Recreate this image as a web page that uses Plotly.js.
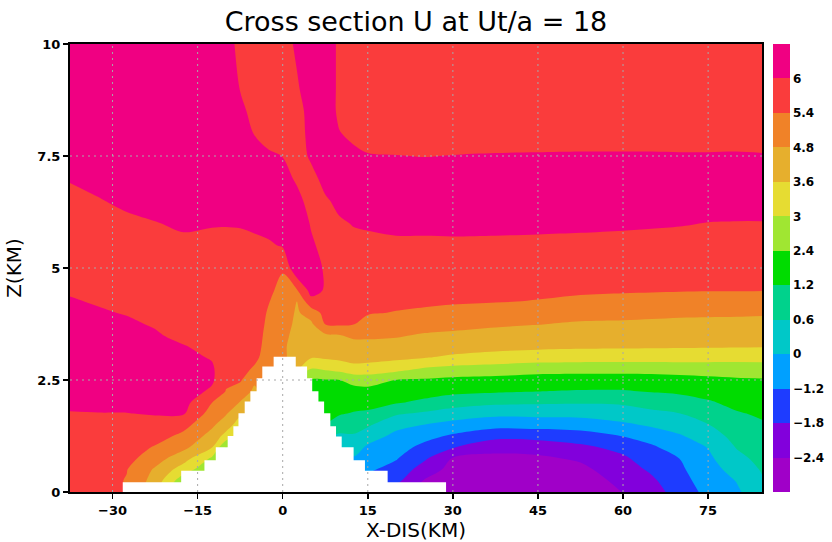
<!DOCTYPE html>
<html><head><meta charset="utf-8">
<script src="https://cdn.plot.ly/plotly-3.0.1.min.js"></script>
<style>html,body{margin:0;padding:0;background:#fff}</style>
</head><body><div id="chart" style="width:832px;height:542px"></div>
<script>
// Grid positions (km)
const xKm = [-37.5, -32.5, -27.5, -22.5, -17.5, -12.5, -10, -7.5, -5, -2.5, 0, 2.5, 5, 7.5, 10, 12.5, 15, 20, 25, 30, 37.5, 45, 52.5, 60, 65, 70, 75, 80, 85];
const zKm = [0, 0.25, 0.5, 0.75, 1, 1.25, 1.5, 1.75, 2, 2.25, 2.5, 2.75, 3, 3.25, 3.5, 3.75, 4, 4.25, 4.5, 5, 5.5, 6, 6.5, 7, 7.5, 8, 8.5, 9, 10];

// U (m/s): one vertical profile per x position (values at zKm)
const U = [
  [5.6, 5.62, 5.65, 5.7, 5.75, 5.82, 5.9, 5.98, 6.08, 6.17, 6.24, 6.28, 6.3, 6.3, 6.26, 6.2, 6.12, 6.04, 5.95, 5.8, 5.7, 5.7, 5.8, 6.05, 6.25, 6.3, 6.3, 6.3, 6.25],
  [5.6, 5.62, 5.65, 5.7, 5.75, 5.82, 5.9, 5.99, 6.1, 6.2, 6.26, 6.3, 6.3, 6.28, 6.22, 6.14, 6.05, 5.96, 5.88, 5.75, 5.7, 5.78, 5.97, 6.15, 6.3, 6.35, 6.3, 6.3, 6.25],
  [5.38, 5.37, 5.42, 5.6, 5.7, 5.78, 5.88, 5.99, 6.12, 6.22, 6.28, 6.3, 6.3, 6.25, 6.18, 6.08, 5.97, 5.88, 5.8, 5.72, 5.75, 5.9, 6.1, 6.25, 6.35, 6.35, 6.3, 6.3, 6.25],
  [3.8, 4.3, 4.65, 5.05, 5.35, 5.65, 5.85, 6.03, 6.15, 6.25, 6.3, 6.3, 6.25, 6.15, 6.06, 5.95, 5.85, 5.78, 5.72, 5.7, 5.8, 5.98, 6.2, 6.3, 6.35, 6.35, 6.3, 6.3, 6.25],
  [2.0, 2.6, 3.3, 4.1, 4.95, 5.25, 5.6, 6.05, 6.2, 6.3, 6.35, 6.3, 6.18, 6.03, 5.85, 5.75, 5.7, 5.68, 5.67, 5.72, 5.88, 6.08, 6.25, 6.3, 6.35, 6.3, 6.3, 6.3, 6.25],
  [2.0, 2.2, 2.5, 2.9, 3.69, 4.4, 4.91, 5.16, 5.41, 5.9, 6.1, 6.1, 5.95, 5.85, 5.8, 5.78, 5.76, 5.76, 5.76, 5.8, 5.88, 6.03, 6.2, 6.3, 6.35, 6.35, 6.3, 6.3, 6.25],
  [1.6, 1.8, 2.0, 2.2, 2.4, 3.39, 4.2, 4.85, 5.13, 5.38, 5.5, 5.55, 5.6, 5.65, 5.68, 5.7, 5.72, 5.74, 5.76, 5.82, 5.9, 6.02, 6.2, 6.3, 6.35, 6.35, 6.3, 6.3, 6.15],
  [2.4, 2.5, 2.6, 2.7, 2.8, 2.9, 3.3, 3.9, 4.74, 5.12, 5.47, 5.55, 5.6, 5.62, 5.64, 5.65, 5.66, 5.68, 5.7, 5.78, 5.9, 6.03, 6.2, 6.3, 6.35, 6.3, 6.2, 5.98, 5.9],
  [3.6, 3.7, 3.8, 3.9, 4.0, 4.1, 4.2, 4.3, 4.4, 4.6, 4.9, 5.35, 5.5, 5.55, 5.58, 5.6, 5.62, 5.64, 5.66, 5.75, 5.88, 6.1, 6.3, 6.35, 6.25, 5.98, 5.75, 5.7, 5.7],
  [4.6, 4.65, 4.7, 4.75, 4.8, 4.85, 4.9, 4.95, 5.0, 5.05, 5.1, 5.15, 5.2, 5.25, 5.28, 5.32, 5.36, 5.42, 5.5, 5.7, 5.92, 6.2, 6.3, 6.3, 6.08, 5.8, 5.7, 5.7, 5.7],
  [4.0, 4.1, 4.2, 4.3, 4.4, 4.5, 4.6, 4.7, 4.8, 4.9, 5.0, 5.0, 4.95, 4.9, 4.95, 5.05, 5.12, 5.2, 5.25, 5.45, 6.05, 6.3, 6.35, 6.25, 5.99, 5.75, 5.7, 5.7, 5.75],
  [2.0, 2.1, 2.2, 2.3, 2.4, 2.5, 2.6, 2.7, 2.8, 2.9, 3.0, 3.8, 4.1, 4.3, 4.45, 4.55, 4.65, 4.78, 5.35, 6.5, 6.5, 6.4, 6.2, 5.9, 5.7, 5.65, 5.7, 5.93, 6.1],
  [0.2, 0.4, 0.6, 0.8, 1.0, 1.2, 1.4, 1.6, 1.8, 2.05, 2.35, 3.0, 3.66, 3.98, 4.29, 4.6, 5.05, 5.82, 6.2, 6.3, 6.1, 5.95, 5.75, 5.8, 6.1, 6.25, 6.3, 6.3, 6.3],
  [-0.9, -0.7, -0.5, -0.2, 0.2, 0.7, 1.2, 1.49, 1.77, 2.06, 2.34, 3.09, 3.74, 4.18, 4.62, 5.42, 5.6, 5.8, 5.95, 5.92, 5.8, 5.75, 5.92, 6.2, 6.3, 6.3, 6.3, 6.3, 6.3],
  [-0.6, -0.45, -0.3, -0.15, 0.02, 0.5, 0.92, 1.3, 1.67, 2.03, 2.38, 3.23, 3.86, 4.33, 4.78, 5.5, 5.55, 5.6, 5.65, 5.72, 5.8, 5.93, 6.15, 6.2, 6.15, 6.02, 5.9, 5.9, 5.9],
  [-1.0, -0.8, -0.5, -0.1, 0.24, 0.54, 0.85, 1.16, 1.59, 2.04, 2.58, 3.43, 3.97, 4.43, 4.9, 5.42, 5.45, 5.5, 5.55, 5.7, 5.85, 6.03, 6.2, 6.2, 6.1, 5.9, 5.78, 5.75, 5.75],
  [-1.6, -1.35, -1.03, -0.6, -0.17, 0.26, 0.69, 1.11, 1.59, 2.07, 2.64, 3.39, 3.96, 4.46, 4.9, 5.23, 5.44, 5.5, 5.55, 5.7, 5.88, 6.06, 6.2, 6.2, 6.03, 5.8, 5.75, 5.75, 5.75],
  [-2.2, -1.65, -1.4, -1.12, -0.7, -0.28, 0.16, 0.68, 1.31, 1.85, 2.38, 3.21, 3.85, 4.38, 4.86, 5.14, 5.38, 5.49, 5.58, 5.75, 5.92, 6.1, 6.2, 6.2, 6.01, 5.8, 5.75, 5.75, 5.75],
  [-2.7, -2.45, -2.08, -1.71, -1.37, -0.81, -0.02, 0.5, 1.08, 1.67, 2.26, 2.94, 3.64, 4.17, 4.69, 5.04, 5.33, 5.47, 5.56, 5.75, 5.93, 6.09, 6.2, 6.2, 5.99, 5.8, 5.75, 5.75, 5.75],
  [-2.9, -2.75, -2.6, -2.44, -1.75, -1.29, -0.4, 0.32, 0.87, 1.47, 2.13, 2.81, 3.51, 4.06, 4.59, 4.97, 5.26, 5.45, 5.55, 5.74, 5.93, 6.1, 6.22, 6.2, 6.01, 5.8, 5.75, 5.75, 5.75],
  [-3.0, -2.84, -2.68, -2.52, -2.24, -1.59, -0.83, 0.16, 0.72, 1.34, 2.04, 2.73, 3.39, 3.94, 4.44, 4.88, 5.17, 5.42, 5.52, 5.72, 5.92, 6.1, 6.22, 6.22, 6.03, 5.8, 5.75, 5.75, 5.75],
  [-3.0, -2.83, -2.67, -2.5, -2.17, -1.58, -0.74, 0.18, 0.68, 1.22, 1.91, 2.63, 3.3, 3.85, 4.32, 4.82, 5.09, 5.38, 5.49, 5.69, 5.9, 6.1, 6.22, 6.22, 6.04, 5.8, 5.75, 5.75, 5.75],
  [-2.9, -2.72, -2.54, -2.32, -1.93, -1.46, -0.65, 0.2, 0.66, 1.16, 1.87, 2.61, 3.27, 3.78, 4.23, 4.67, 5.01, 5.3, 5.47, 5.67, 5.88, 6.09, 6.22, 6.22, 6.05, 5.8, 5.75, 5.75, 5.75],
  [-2.38, -2.23, -2.07, -1.9, -1.62, -1.16, -0.19, 0.3, 0.69, 1.16, 1.87, 2.61, 3.26, 3.76, 4.19, 4.63, 4.97, 5.25, 5.45, 5.65, 5.86, 6.07, 6.22, 6.22, 6.05, 5.8, 5.75, 5.75, 5.75],
  [-2.1, -1.91, -1.71, -1.5, -1.29, -0.69, 0.08, 0.46, 0.85, 1.28, 1.93, 2.61, 3.25, 3.74, 4.16, 4.58, 4.94, 5.22, 5.44, 5.64, 5.85, 6.05, 6.2, 6.2, 6.05, 5.8, 5.75, 5.75, 5.75],
  [-1.5, -1.4, -1.3, -1.19, -0.65, -0.11, 0.26, 0.59, 0.95, 1.4, 2.01, 2.65, 3.24, 3.72, 4.13, 4.54, 4.9, 5.19, 5.43, 5.63, 5.83, 6.03, 6.2, 6.2, 6.04, 5.8, 5.75, 5.75, 5.75],
  [-0.9, -0.68, -0.45, -0.23, 0.02, 0.29, 0.58, 0.86, 1.14, 1.61, 2.13, 2.68, 3.22, 3.7, 4.11, 4.52, 4.89, 5.18, 5.42, 5.61, 5.8, 5.99, 6.2, 6.2, 6.04, 5.8, 5.75, 5.75, 5.75],
  [-0.2, 0.02, 0.21, 0.43, 0.63, 0.81, 0.98, 1.15, 1.48, 1.86, 2.25, 2.7, 3.2, 3.68, 4.09, 4.5, 4.88, 5.16, 5.42, 5.6, 5.79, 5.98, 6.2, 6.2, 6.05, 5.8, 5.75, 5.75, 5.75],
  [0.48, 0.59, 0.7, 0.81, 0.93, 1.04, 1.15, 1.38, 1.69, 2.0, 2.31, 2.73, 3.19, 3.66, 4.07, 4.48, 4.86, 5.15, 5.41, 5.6, 5.79, 5.98, 6.2, 6.2, 6.03, 5.8, 5.75, 5.75, 5.75]
];

// Contour levels, labels, shading colours
const levels = [-2.4, -1.8, -1.2, 0, 0.6, 1.2, 2.4, 3, 3.6, 4.8, 5.4, 6];
const levelLabels = ['\u22122.4', '\u22121.8', '\u22121.2', '0', '0.6', '1.2', '2.4', '3', '3.6', '4.8', '5.4', '6'];
const levelColors = ['rgb(160,0,200)', 'rgb(130,0,220)', 'rgb(30,60,255)', 'rgb(0,160,255)', 'rgb(0,200,200)',
  'rgb(0,210,140)', 'rgb(0,220,0)', 'rgb(160,230,50)', 'rgb(230,220,50)', 'rgb(230,175,45)',
  'rgb(240,130,40)', 'rgb(250,60,60)', 'rgb(240,0,130)'];

// Terrain (white mask) step edges and heights
const terrainX = [-28.2, -17.9, -13.8, -11.8, -9.7, -8.7, -7.8, -6.7, -5.7, -4.6, -3.6, -1.6, 2.3, 4.3, 5.2, 6.3, 7.3, 8.4, 9.4, 10.4, 12.5, 14.5, 18.5, 28.8];
const terrainZ = [0.22, 0.475, 0.71, 1.0, 1.25, 1.47, 1.76, 2.02, 2.25, 2.54, 2.8, 3.02, 2.8, 2.54, 2.25, 2.02, 1.76, 1.47, 1.24, 1.0, 0.71, 0.475, 0.22, 0];

const xTicks = [-30, -15, 0, 15, 30, 45, 60, 75];
const yTicks = [0, 2.5, 5, 7.5, 10];
const yTickText = ['0', '2.5', '5', '7.5', '10'];
const yGrid = [2.5, 5, 7.5];

// Map U onto equally spaced level index (so the uneven levels get equal colour-bar boxes)
function toIndex(u) {
  const n = levels.length;
  if (u <= levels[0]) return (u - levels[0]) / (levels[1] - levels[0]);
  if (u >= levels[n - 1]) return (n - 1) + (u - levels[n - 1]) / (levels[n - 1] - levels[n - 2]);
  for (let i = 0; i < n - 1; i++) {
    if (u <= levels[i + 1]) return i + (u - levels[i]) / (levels[i + 1] - levels[i]);
  }
}
const zIdx = U.map(col => col.map(toIndex));
const cscale = levelColors.map((c, i) => [i / (levelColors.length - 1), c]);

const FONT = 'DejaVu Sans, Liberation Sans, sans-serif';

const contour = {
  type: 'contour', x: xKm, y: zKm, z: zIdx, transpose: true,
  zauto: false, zmin: -1, zmax: levels.length,
  autocontour: false,
  contours: {start: 0, end: levels.length - 1, size: 1, coloring: 'fill', showlines: false},
  line: {width: 0, smoothing: 0.9},
  colorscale: cscale, showscale: true, hoverinfo: 'skip',
  colorbar: {
    x: 1.0144, xanchor: 'left', xpad: 0, y: 0.5, yanchor: 'middle', ypad: 0,
    len: 1, lenmode: 'fraction', thickness: 17, outlinewidth: 0,
    tickmode: 'array', tickvals: levels.map((v, i) => i), ticktext: levelLabels,
    ticks: '', ticklen: 2, tickfont: {family: FONT, size: 12, color: '#000', weight: 'bold'}
  }
};

const terrain = {
  type: 'scatter', mode: 'lines', x: terrainX, y: terrainZ,
  line: {shape: 'hv', width: 0, color: '#ffffff'},
  fill: 'tozeroy', fillcolor: '#ffffff', hoverinfo: 'skip', showlegend: false
};

const shapes = [];
xTicks.forEach(v => shapes.push({type: 'line', xref: 'x', yref: 'y', x0: v, x1: v, y0: 0, y1: 10, layer: 'above',
  line: {color: '#a8a8a8', width: 1, dash: '2px,4px'}}));
yGrid.forEach(v => shapes.push({type: 'line', xref: 'x', yref: 'y', x0: -37.5, x1: 84.5, y0: v, y1: v, layer: 'above',
  line: {color: '#a8a8a8', width: 1, dash: '2px,4px'}}));

const layout = {
  width: 832, height: 542,
  margin: {l: 70, r: 69, t: 44, b: 50, pad: 0},
  paper_bgcolor: '#ffffff', plot_bgcolor: '#ffffff',
  showlegend: false,
  font: {family: FONT, color: '#000'},
  title: {text: 'Cross section U at Ut/a = 18', font: {family: FONT, size: 27, color: '#000'},
    x: 0.5, xanchor: 'center', xref: 'paper', y: 1 - 22 / 542, yanchor: 'middle', yref: 'container'},
  xaxis: {range: [-37.5, 84.5], tickmode: 'array', tickvals: xTicks, ticks: 'outside', ticklen: 5, tickwidth: 1.5,
    tickcolor: '#000', showline: true, linecolor: '#000', linewidth: 2, mirror: true, showgrid: false, zeroline: false,
    tickfont: {family: FONT, size: 13, color: '#000', weight: 'bold'},
    title: {text: 'X-DIS(KM)', font: {family: FONT, size: 20, color: '#000'}, standoff: 4}},
  yaxis: {range: [0, 10], tickmode: 'array', tickvals: yTicks, ticktext: yTickText, ticks: 'outside', ticklen: 5, tickwidth: 1.5,
    tickcolor: '#000', showline: true, linecolor: '#000', linewidth: 2, mirror: true, showgrid: false, zeroline: false,
    tickfont: {family: FONT, size: 13, color: '#000', weight: 'bold'},
    title: {text: 'Z(KM)', font: {family: FONT, size: 20, color: '#000'}, standoff: 10}},
  shapes: shapes
};

Plotly.newPlot('chart', [contour, terrain], layout, {displayModeBar: false, staticPlot: true});
</script>
</body></html>
